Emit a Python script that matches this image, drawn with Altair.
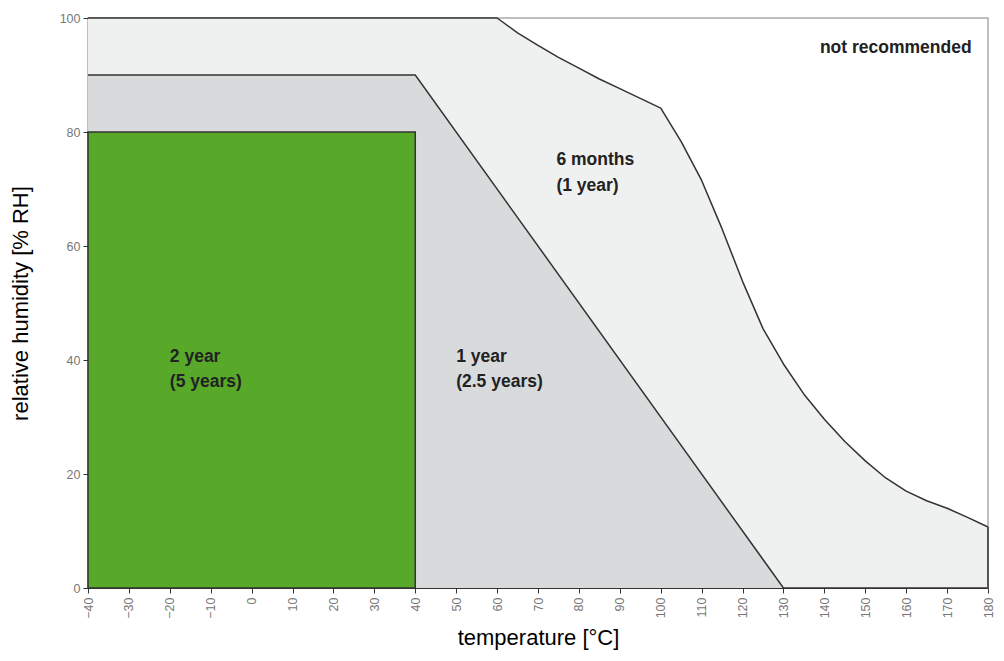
import altair as alt
import pandas as pd

# outer envelope "6 months (1 year)"
outer_x = [-40, 60, 65, 70, 75, 80, 85, 90, 95, 100, 105, 110, 115, 120, 125, 130, 135, 140, 145, 150, 155, 160, 165, 170, 175, 180]
outer_y = [100, 100, 97.4, 95.2, 93.1, 91.2, 89.3, 87.6, 85.9, 84.2, 78.3, 71.5, 63, 53.8, 45.5, 39.3, 34, 29.6, 25.7, 22.3, 19.3, 17, 15.3, 14, 12.4, 10.7]

# middle band "1 year (2.5 years)"
mid_x = [-40, 40, 130, 180]
mid_y = [90, 90, 0, 0]

# inner box "2 year (5 years)"
box_x0, box_x1, box_y0, box_y1 = [-40], [40], [0], [80]

label_text = ["not recommended", "6 months", "(1 year)", "2 year", "(5 years)", "1 year", "(2.5 years)"]
label_x = [176, 74.5, 74.5, -20, -20, 50, 50]
label_y = [94.7, 75.1, 70.5, 40.6, 36.1, 40.6, 36.1]
label_align = ["right", "left", "left", "left", "left", "left", "left"]

x_ticks = list(range(-40, 181, 10))
y_ticks = [0, 20, 40, 60, 80, 100]

outer = pd.DataFrame({"t": outer_x, "rh": outer_y})
mid = pd.DataFrame({"t": mid_x, "rh": mid_y})
box = pd.DataFrame({"x0": box_x0, "x1": box_x1, "y0": box_y0, "y1": box_y1})
labels = pd.DataFrame({"t": label_x, "rh": label_y, "txt": label_text, "al": label_align})

xs = alt.Scale(domain=[-40, 180], nice=False, zero=False)
ys = alt.Scale(domain=[0, 100], nice=False)

xaxis = alt.Axis(values=x_ticks, labelAngle=270, grid=False, title="temperature [°C]",
                 titleFontSize=22, titleFontWeight="normal", titleColor="#000",
                 titlePadding=9, labelColor="#777", labelFontSize=12.5,
                 tickColor="#333", domainColor="#333", tickSize=5, labelPadding=4)
yaxis = alt.Axis(values=y_ticks, grid=False, title="relative humidity [% RH]",
                 titleFontSize=22, titleFontWeight="normal", titleColor="#000",
                 titlePadding=27, labelColor="#777", labelFontSize=12.5,
                 tickColor="#333", domainColor="#333", tickSize=5, labelPadding=3)

outer_area = alt.Chart(outer).mark_area(color="#eff0f0", opacity=1).encode(
    x=alt.X("t:Q", scale=xs, axis=xaxis), y=alt.Y("rh:Q", scale=ys, axis=yaxis), y2=alt.datum(0))
outer_line = alt.Chart(outer).mark_line(color="#333", strokeWidth=1.5, strokeJoin="round").encode(
    x=alt.X("t:Q", scale=xs), y=alt.Y("rh:Q", scale=ys))
mid_area = alt.Chart(mid).mark_area(color="#d9dadc", opacity=1).encode(
    x=alt.X("t:Q", scale=xs), y=alt.Y("rh:Q", scale=ys), y2=alt.datum(0))
mid_line = alt.Chart(mid).mark_line(color="#333", strokeWidth=1.5).encode(
    x=alt.X("t:Q", scale=xs), y=alt.Y("rh:Q", scale=ys))
box_rect = alt.Chart(box).mark_rect(color="#58a92a", stroke="#333", strokeWidth=1.5).encode(
    x=alt.X("x0:Q", scale=xs), x2="x1:Q", y=alt.Y("y0:Q", scale=ys), y2="y1:Q")
right_edge = alt.Chart(pd.DataFrame({"t": [180], "a": [0], "b": [outer_y[-1]]})).mark_rule(
    color="#555", strokeWidth=2).encode(x=alt.X("t:Q", scale=xs), y=alt.Y("a:Q", scale=ys), y2="b:Q")

text_left = alt.Chart(labels[labels["al"] == "left"]).mark_text(
    fontSize=17.5, fontWeight="bold", color="#222", font="Liberation Sans",
    baseline="middle", align="left").encode(
    x=alt.X("t:Q", scale=xs), y=alt.Y("rh:Q", scale=ys), text="txt:N")
text_right = alt.Chart(labels[labels["al"] == "right"]).mark_text(
    fontSize=17.5, fontWeight="bold", color="#222", font="Liberation Sans",
    baseline="middle", align="right").encode(
    x=alt.X("t:Q", scale=xs), y=alt.Y("rh:Q", scale=ys), text="txt:N")

chart = alt.layer(outer_area, mid_area, box_rect, outer_line, mid_line, right_edge,
                  text_left, text_right).properties(
    width=900, height=570,
    autosize=alt.AutoSizeParams(type="none"),
    padding={"left": 80, "top": 10, "right": 8, "bottom": 64},
).configure_view(stroke="#aaa", strokeWidth=1.5).configure_axis(
    labelFont="Liberation Sans", titleFont="Liberation Sans")

chart.save("out.html", embed_options={"renderer": "svg", "actions": False})
